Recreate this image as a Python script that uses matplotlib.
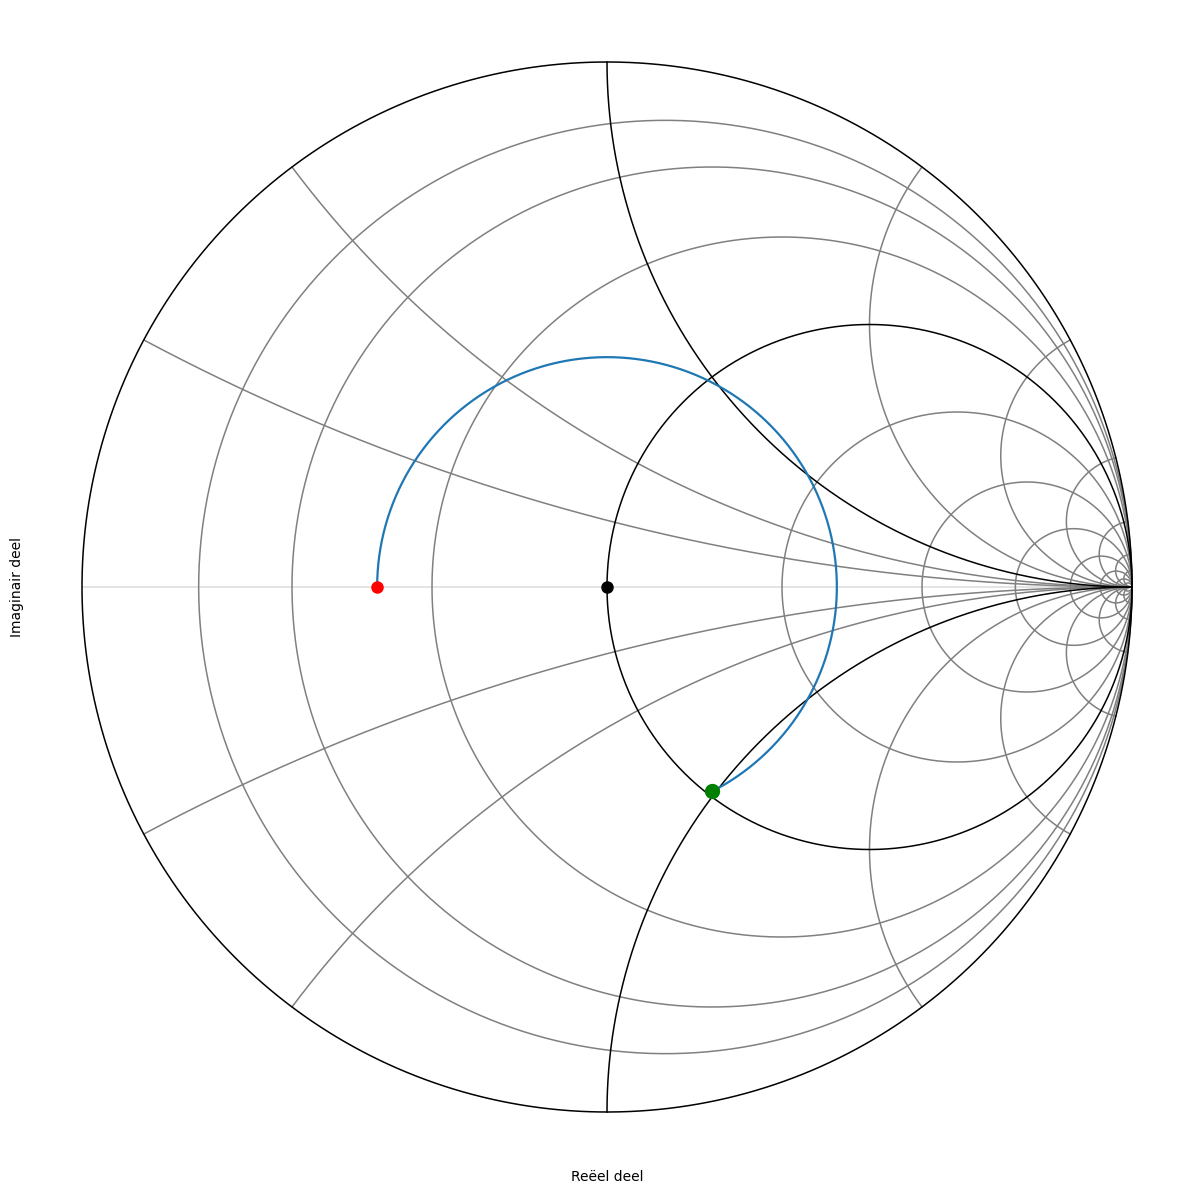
import numpy as np
import matplotlib
matplotlib.use("Agg")
import matplotlib.pyplot as plt

# Smith chart grid values (normalized)
resistance_values = [0.125, 0.25, 0.5, 1, 2, 4, 8, 16, 32, 64, 128]
reactance_values = [0.25, 0.5, 1, 2, 4, 8, 16, 32, 64]
highlight_values = [1]          # drawn in black
load_impedance = 0.391          # normalized load (real)
rotation_end_deg = -62.8        # angle of the matched point on the r = 1 circle

x_label = "Reëel deel"
y_label = "Imaginair deel"

fig = plt.figure(figsize=(11.94, 11.94), dpi=100)
ax = fig.add_axes([29.5 / 1194, 29.5 / 1194, 1155 / 1194, 1155 / 1194])

t = np.linspace(0, 2 * np.pi, 1000)

# outer circle r = 0
ax.plot(np.cos(t), np.sin(t), color="black", lw=1.1, zorder=3)

# real axis
ax.plot([-1, 1], [0, 0], color="#dcdcdc", lw=1.1, zorder=1)

# constant resistance circles
for r in resistance_values:
    c = r / (1 + r)
    rad = 1 / (1 + r)
    col = "black" if r in highlight_values else "gray"
    ax.plot(c + rad * np.cos(t), rad * np.sin(t), color=col, lw=1.1,
            zorder=3 if col == "black" else 2)

# constant reactance arcs (inside unit circle)
rr = np.concatenate([[0.0], np.logspace(-4, 5, 3000)])
for xv in reactance_values:
    for s in (1, -1):
        z = rr + 1j * s * xv
        g = (z - 1) / (z + 1)
        col = "black" if xv in highlight_values else "gray"
        ax.plot(g.real, g.imag, color=col, lw=1.1,
                zorder=3 if col == "black" else 2)

# load reflection coefficient and rotation toward the r = 1 circle
gamma_L = (load_impedance - 1) / (load_impedance + 1)
mag = abs(gamma_L)
theta_end = np.deg2rad(rotation_end_deg)
theta = np.linspace(np.pi, theta_end, 500)
ax.plot(mag * np.cos(theta), mag * np.sin(theta), color="#1f77b4", lw=1.6, zorder=4)

ax.plot([gamma_L], [0], "o", color="red", ms=8, zorder=5)
ax.plot([0], [0], "o", color="black", ms=8, zorder=5)
ax.plot([mag * np.cos(theta_end)], [mag * np.sin(theta_end)], "o",
        color="green", ms=10, zorder=5)

ax.set_xlim(-1.1, 1.1)
ax.set_ylim(-1.1, 1.1)
ax.set_aspect("equal")
ax.set_xticks([])
ax.set_yticks([])
for sp in ax.spines.values():
    sp.set_visible(False)
ax.set_xlabel(x_label)
ax.set_ylabel(y_label)

fig.savefig("out.png", dpi=100)
